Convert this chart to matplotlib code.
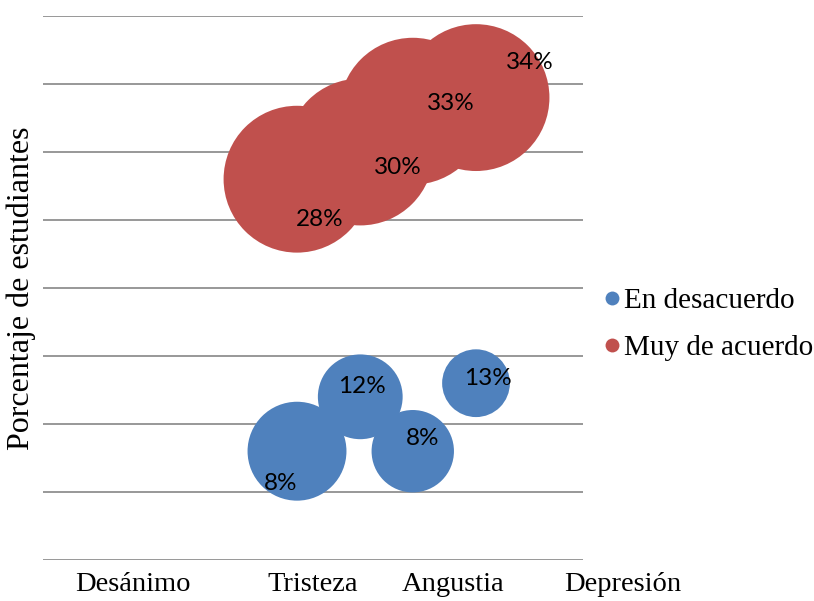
import matplotlib
matplotlib.use("Agg")
import matplotlib.pyplot as plt
from matplotlib.lines import Line2D

# Datos de la encuesta (porcentaje de estudiantes por emoción)
categorias = ["Desánimo", "Tristeza", "Angustia", "Depresión"]

x_desacuerdo = [1.0, 2.06, 2.94, 4.0]
y_desacuerdo = [8, 12, 8, 13]
tam_desacuerdo = [24.5, 18, 17, 11.5]

x_acuerdo = [1.0, 2.06, 2.94, 4.0]
y_acuerdo = [28, 30, 33, 34]
tam_acuerdo = [54, 54, 54, 54]

series = ["En desacuerdo", "Muy de acuerdo"]
colores = ["#4F81BD", "#C0504D"]

# posiciones de las etiquetas (pixeles de desplazamiento) y de las categorías
off_desacuerdo = [(-16, -32), (2, 10), (10, 13), (12, 5)]
off_acuerdo = [(23, -40), (38, -16), (38, 8), (54, 35)]
pos_categorias = [-1.75, 1.27, 3.61, 6.46]
escala = 207.0

serif = "Liberation Serif"
sans = "Lato"

fig = plt.figure(figsize=(8.14, 6.01), dpi=100)
ax = fig.add_axes([43 / 814, 41 / 601, 540 / 814, 544 / 601])

ax.set_xlim(-3.257, 5.793)
ax.set_ylim(0, 40)
ax.set_yticks(range(0, 41, 5))
ax.yaxis.grid(True, color="#868686", linewidth=1.2)
ax.set_axisbelow(True)
ax.tick_params(left=False, bottom=False, labelleft=False, labelbottom=False)
for s in ax.spines.values():
    s.set_visible(False)

for xs, ys, ts, offs, color in [
    (x_desacuerdo, y_desacuerdo, tam_desacuerdo, off_desacuerdo, colores[0]),
    (x_acuerdo, y_acuerdo, tam_acuerdo, off_acuerdo, colores[1]),
]:
    ax.scatter(xs, ys, s=[t * escala for t in ts], color=color,
               edgecolors="none", zorder=2)
    for x, y, off in zip(xs, ys, offs):
        ax.annotate(f"{y}%", (x, y), xytext=off, textcoords="offset pixels",
                    ha="center", va="center", fontsize=17.5,
                    family=sans, color="black", zorder=3)

for nombre, xp in zip(categorias, pos_categorias):
    ax.annotate(nombre, (xp, 0), xycoords=("data", "axes fraction"),
                xytext=(0, -12), textcoords="offset pixels",
                ha="center", va="top", fontsize=20.5, family=serif,
                annotation_clip=False)

ax.set_ylabel("Porcentaje de estudiantes", fontsize=23, family=serif)
ax.yaxis.set_label_coords(-0.013, 0.5)

handles = [Line2D([], [], linestyle="none", marker="o", markersize=10,
                  markerfacecolor=c, markeredgecolor="none") for c in colores]
fig.legend(handles, series, loc="center left",
           bbox_to_anchor=(602 / 814, (601 - 324.5) / 601),
           frameon=False, borderpad=0, borderaxespad=0,
           handlelength=0.7, handletextpad=0.05, labelspacing=0.72,
           prop={"family": serif, "size": 21})

fig.savefig("out.png", dpi=100)
